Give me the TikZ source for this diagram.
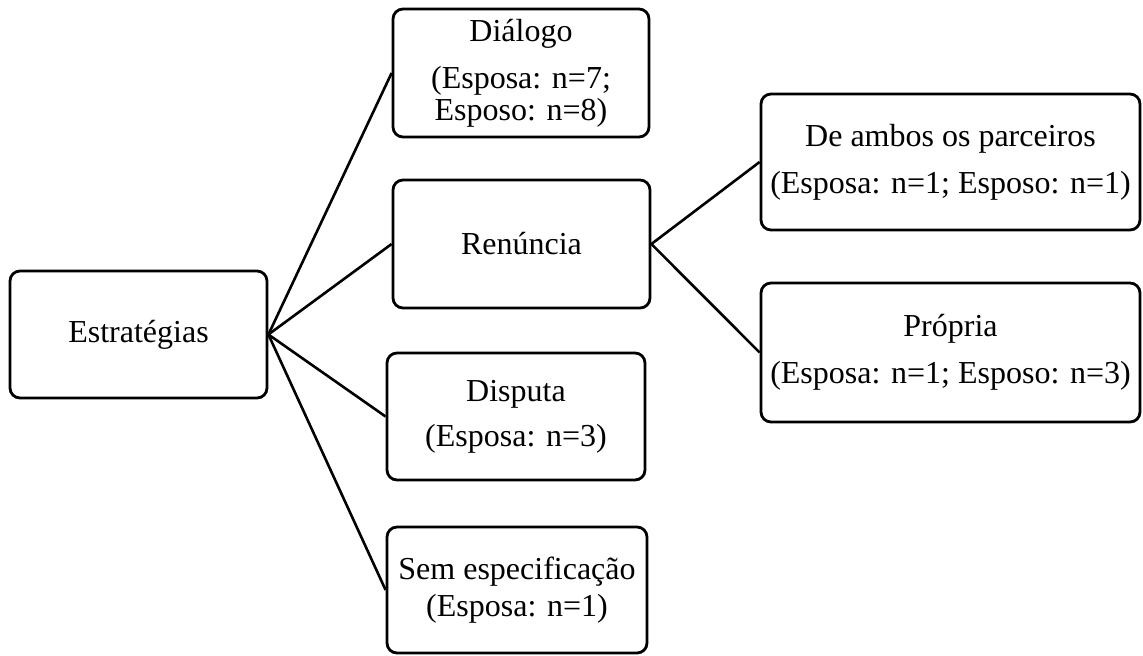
\documentclass[tikz,border=0pt]{standalone}
\usepackage{fontspec}
\setmainfont{Liberation Serif}
\begin{document}
\begin{tikzpicture}[x=0.5pt,y=-0.5pt,
  box/.style={draw, line width=1.4pt, rounded corners=5pt, inner sep=0pt, align=center,
    font=\fontsize{16}{16}\selectfont},
  link/.style={line width=1.3pt}]
\useasboundingbox (0,0) rectangle (1143,655);
\node[box, minimum width=128.5pt, minimum height=63.5pt] (est) at (138.5,334.5) {Estratégias};
\node[box, minimum width=128pt, minimum height=64pt] (dia) at (521,73) {Diálogo\\[7.5pt](Esposa: n=7;\\Esposo: n=8)};
\node[box, minimum width=128.5pt, minimum height=64pt] (ren) at (521.5,244) {Renúncia};
\node[box, minimum width=129pt, minimum height=63.5pt] (dis) at (516,416.5) {Disputa\\[6.5pt](Esposa: n=3)};
\node[box, minimum width=130pt, minimum height=63pt] (sem) at (517,590) {Sem especificação\\[2.5pt](Esposa: n=1)};
\node[box, minimum width=189.5pt, minimum height=68pt] (amb) at (950.5,162) {De ambos os parceiros\\[7.5pt](Esposa: n=1; Esposo: n=1)};
\node[box, minimum width=189.5pt, minimum height=69.5pt] (pro) at (950.5,352.5) {Própria\\[7.5pt](Esposa: n=1; Esposo: n=3)};
\draw[link] (est.east) -- (dia.west);
\draw[link] (est.east) -- (ren.west);
\draw[link] (est.east) -- (dis.west);
\draw[link] (est.east) -- (sem.west);
\draw[link] (ren.east) -- (amb.west);
\draw[link] (ren.east) -- (pro.west);
\end{tikzpicture}
\end{document}
